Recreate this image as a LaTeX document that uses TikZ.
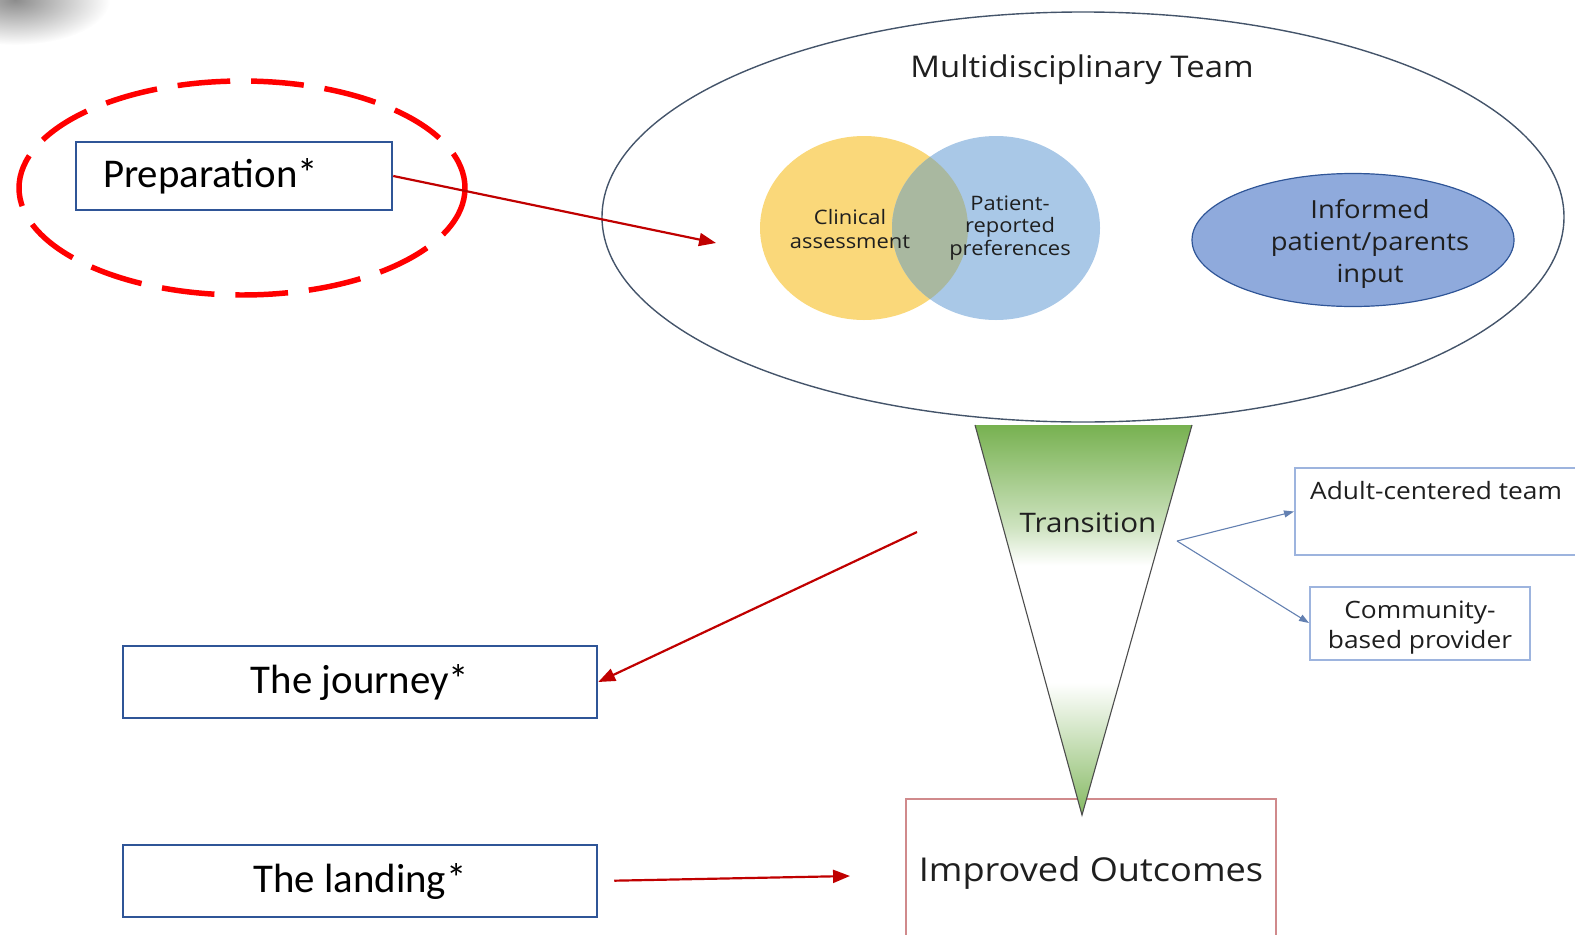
\documentclass[tikz,border=0pt]{standalone}
\usepackage{fontspec}
\setmainfont{Carlito}
\newfontfamily\opensans{Open Sans}[FakeStretch=1.1]
\usetikzlibrary{arrows.meta,shapes.geometric}

\definecolor{boxblue}{HTML}{2F5597}
\definecolor{arrowred}{HTML}{C00000}
\definecolor{dashred}{HTML}{FF0000}
\definecolor{venyellow}{HTML}{FAD87A}
\definecolor{venblue}{HTML}{A9C8E7}
\definecolor{venmix}{HTML}{A9B8A0}
\definecolor{infoblue}{HTML}{8FAADC}
\definecolor{funnelgreen}{HTML}{70AD47}
\definecolor{lightframe}{HTML}{9DB4DE}
\definecolor{pinkframe}{HTML}{D08A8C}
\definecolor{rimgray}{HTML}{44546A}

\pgfdeclareverticalshading{funnelshade}{100bp}{color(0bp)=(funnelgreen!85); color(25bp)=(funnelgreen!85); color(31bp)=(funnelgreen!55); color(42bp)=(white); color(57bp)=(white); color(62bp)=(funnelgreen!35); color(75bp)=(funnelgreen!95); color(100bp)=(funnelgreen!95)}

\tikzset{
  textbox/.style={draw=boxblue, line width=2.5pt, fill=white, font=\fontsize{41}{49}\selectfont},
  dashring/.style={draw=dashred, line width=5.5pt, dash pattern=on 53pt off 21pt},
  redarrow/.style={draw=arrowred, line width=2.2pt, -{Triangle[length=17pt,width=13pt]}},
  bluearrow/.style={draw=boxblue!75, line width=1.1pt, -{Triangle[length=10pt,width=7pt]}},
  vennring/.style={ellipse, minimum width=208bp, minimum height=184bp, inner sep=0pt},
  sidebox/.style={draw=lightframe, line width=2pt, fill=white},
  outbox/.style={draw=pinkframe, line width=2pt, fill=white},
  sans/.style args={#1/#2}{font=\opensans\fontsize{#1}{#2}\selectfont, text=black!88, align=center, inner sep=0pt}
}

\begin{document}
\begin{tikzpicture}[x=1bp,y=-1bp]
  \useasboundingbox (0,0) rectangle (1575,934);
  \clip (0,0) rectangle (1575,934);

  % grey smudge in the corner
  \shade[inner color=black!45, outer color=white] (15,0) ellipse (95 and 45);

  % preparation
  \node[textbox, text width=262bp, inner xsep=27bp, align=left, minimum height=68bp] (prep) at (234,176) {Preparation*};
  \draw[dashring] (242,188) ellipse (223 and 107);

  % multidisciplinary team
  \node[draw=rimgray, line width=1.4pt, ellipse, minimum width=962bp, minimum height=410bp] (mdt) at (1083,217) {};
  \node[sans=30/36] (mdttitle) at (1082,70) {Multidisciplinary Team};

  % venn pair
  \node[vennring, fill=venyellow] (clin) at (864,228) {};
  \node[vennring, fill=venblue] (pref) at (996,228) {};
  \begin{scope}
    \clip (864,228) ellipse (104 and 92);
    \fill[venmix] (996,228) ellipse (104 and 92);
  \end{scope}
  \node[sans=20/25] (clintext) at (850,229) {Clinical\\assessment};
  \node[sans=20/23] (preftext) at (1010,228) {Patient-\\reported\\preferences};
  \coordinate (venn) at (716,243);

  % informed input
  \node[ellipse, draw=boxblue, line width=1.2pt, fill=infoblue, minimum width=322bp, minimum height=133bp] (inf) at (1353,240) {};
  \node[sans=25/32] (inftext) at (1370,244) {Informed\\patient/parents\\input};

  % improved outcomes
  \node[outbox, minimum width=370bp, minimum height=180bp, anchor=north] (outc) at (1091,798) {};
  \node[sans=33/40] (outctext) at (1091,873) {Improved Outcomes};

  % funnel
  \shade[shading=funnelshade] (975,425) -- (1192,425) -- (1082,815) -- cycle;
  \draw[black!70, line width=1.1pt] (975,425) -- (1082,815) -- (1192,425);
  \node[sans=27/32] (trans) at (1088,523) {Transition};
  \coordinate (split) at (1177,541);
  \coordinate (funnelside) at (917,532);

  % receiving side
  \node[sidebox, minimum width=320bp, minimum height=87bp, anchor=north west] (adult) at (1294,467) {};
  \node[sans=24/28, anchor=west] (adulttext) at (1310,491) {Adult-centered team};
  \node[sidebox, minimum width=220bp, minimum height=73bp] (comm) at (1420,623) {};
  \node[sans=24/30] (commtext) at (1420,628) {Community-\\based provider};
  \draw[bluearrow] (split) -- (adult.west);
  \draw[bluearrow] (split) -- (comm.west);

  % journey and landing
  \node[textbox, minimum width=474bp, minimum height=72bp] (journey) at (360,682) {The journey*};
  \node[textbox, minimum width=474bp, minimum height=72bp] (landing) at (360,881) {The landing*};
  \coordinate (outcwest) at (850,876);

  \draw[redarrow] (prep.east) -- (venn);
  \draw[redarrow] (funnelside) -- (journey.east);
  \draw[redarrow, shorten <=16bp] (landing.east) -- (outcwest);
\end{tikzpicture}
\end{document}
